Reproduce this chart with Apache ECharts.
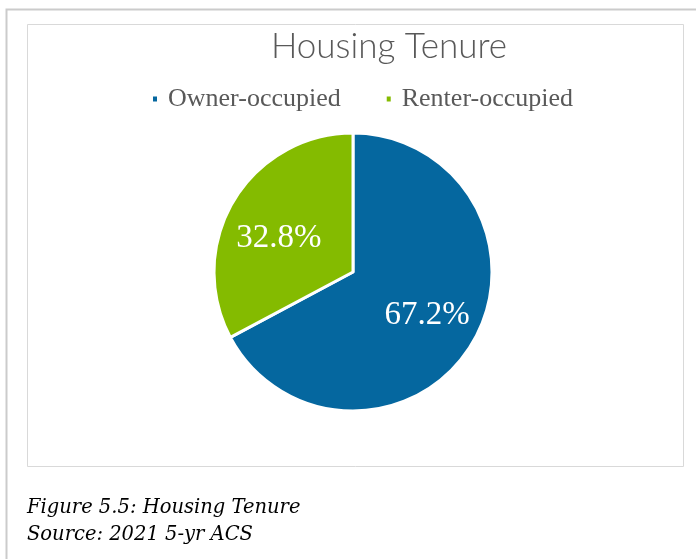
<!DOCTYPE html>
<html><head><meta charset="utf-8">
<script src="https://cdn.jsdelivr.net/npm/echarts@6/dist/echarts.min.js"></script>
<style>html,body{margin:0;padding:0;background:#fff}#c{width:696px;height:559px}</style>
</head><body><div id="c"></div>
<script>
const categories = ['Owner-occupied', 'Renter-occupied'];
const values = [67.2, 32.8];
const colors = ['#05679F', '#84BB00'];
const labelOffsets = [[12, 6], [-12, 4]];

const chart = echarts.init(document.getElementById('c'));
chart.setOption({
  animation: false,
  backgroundColor: '#fff',
  graphic: [
    {type:'rect', shape:{x:6.5, y:9.5, width:720, height:600}, style:{fill:'none', stroke:'#cbcbcb', lineWidth:2}},
    {type:'rect', shape:{x:27.5, y:24.5, width:656, height:442}, style:{fill:'none', stroke:'#d9d9d9', lineWidth:1}},
    {type:'text', x:389, y:47, style:{text:'Housing Tenure', fontFamily:'Lato', fontWeight:300, fontSize:35, fill:'#595959', textAlign:'center', textVerticalAlign:'middle'}},
    {type:'text', x:27, y:508, style:{text:'Figure 5.5: Housing Tenure', fontFamily:'DejaVu Serif', fontStyle:'italic', fontSize:19.5, fill:'#000', textAlign:'left', textVerticalAlign:'middle'}},
    {type:'text', x:27, y:535, style:{text:'Source: 2021 5-yr ACS', fontFamily:'DejaVu Serif', fontStyle:'italic', fontSize:19.5, fill:'#000', textAlign:'left', textVerticalAlign:'middle'}}
  ],
  legend: {
    data: categories, left: 146, top: 81, icon: 'rect', itemWidth: 6, itemHeight: 7, itemGap: 44,
    textStyle: {fontFamily:'Liberation Serif', fontSize: 26, color:'#595959', padding:[0,0,0,5]}
  },
  color: colors,
  series: [{
    type: 'pie', center: [353, 272], radius: 139, startAngle: 90, clockwise: true,
    data: categories.map((n,i)=>({name:n, value:values[i], label:{offset:labelOffsets[i]}})),
    itemStyle: {borderColor:'#fff', borderWidth:3},
    label: {show:true, position:'inside', formatter: p => p.value.toFixed(1)+'%', color:'#fff', fontFamily:'Liberation Serif', fontSize:33},
    labelLine: {show:false}
  }]
});
</script></body></html>
